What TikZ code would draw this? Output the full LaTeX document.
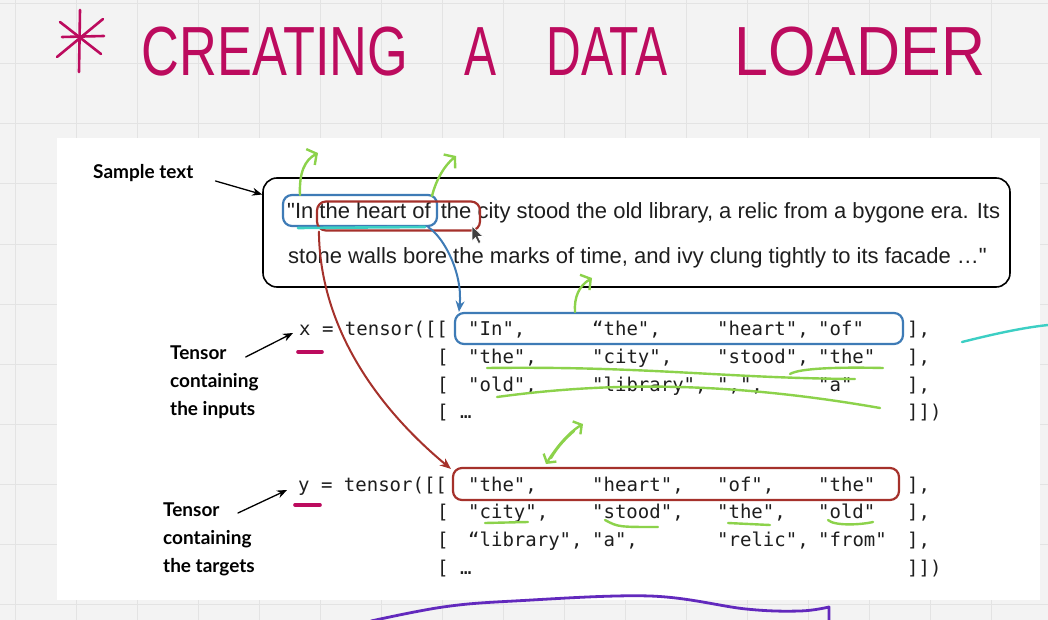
\documentclass[tikz,border=0pt]{standalone}
\usepackage{fontspec}
\usepackage{graphicx}
\setmainfont{Liberation Sans}
\newfontfamily\monofont{DejaVu Sans Mono}
\newfontfamily\labelfont{Lato}
\usetikzlibrary{arrows.meta}

\definecolor{boardgray}{HTML}{F3F3F3}
\definecolor{gridgray}{HTML}{E3E3E3}
\definecolor{inkmagenta}{HTML}{BC0B5E}
\definecolor{inkgreen}{HTML}{8CD24B}
\definecolor{inkcyan}{HTML}{3CCFC4}
\definecolor{inkpurple}{HTML}{6229BD}
\definecolor{boxblue}{HTML}{3E7BB6}
\definecolor{boxred}{HTML}{A5312B}
\definecolor{textdark}{HTML}{1E1E1E}

\newcommand{\tensorrow}[5]{\makebox[124pt][l]{#1}\makebox[125pt][l]{#2}\makebox[101pt][l]{#3}\makebox[89pt][l]{#4}#5}

\tikzset{
  mono/.style={font=\monofont\fontsize{19}{22}\selectfont,anchor=west,inner sep=0pt,text=textdark},
  sample/.style={font=\fontsize{22}{26}\selectfont,anchor=west,inner sep=0pt,text=textdark},
  tag/.style={font=\labelfont\bfseries\fontsize{19}{28}\selectfont,align=left,anchor=west,inner sep=0pt,text=black},
  titleink/.style={font=\fontsize{48}{50}\selectfont,text=inkmagenta,inner sep=0pt},
  hlbox/.style={draw,rounded corners=9pt,line width=2.2pt,inner sep=0pt},
  ink/.style={line width=2.4pt,line cap=round,line join=round},
  pointer/.style={line width=1.3pt,-{Stealth[length=10pt,width=8pt]}},
  barb/.style={-{Straight Barb[length=7pt,width=18pt]}},
}

\begin{document}
\begin{tikzpicture}[x=1pt,y=-1pt,line cap=round,line join=round]
  \useasboundingbox (0,0) rectangle (1048,620);
  \fill[boardgray] (0,0) rectangle (1048,620);
  \foreach \gx in {15,76,...,1048} \draw[gridgray,line width=1pt] (\gx,0) -- (\gx,620);
  \foreach \gy in {4,64,...,620} \draw[gridgray,line width=1pt] (0,\gy) -- (1048,\gy);
  \fill[white] (57,138) rectangle (1040,600);

  \begin{scope}[inkmagenta,line width=2.6pt]
    \draw (80,10) -- (79,72);
    \draw (60,22) -- (101,54);
    \draw (57,57) -- (103,19);
    \draw (62,37) -- (104,36);
  \end{scope}
  \node[titleink] (tcreating) at (275,52) {\scalebox{1.09}[1.45]{CREATING}};
  \node[titleink] (ta) at (480,52) {\scalebox{1}[1.45]{A}};
  \node[titleink] (tdata) at (607,52) {\scalebox{1}[1.45]{DATA}};
  \node[titleink] (tloader) at (860,52) {\scalebox{1.27}[1.45]{LOADER}};

  \node[draw,line width=1.6pt,rounded corners=14pt,minimum width=747pt,minimum height=109pt] (sbox) at (636.5,232.5) {};
  \node[sample] (sline1) at (287,213) {\textquotedbl In the heart of\hspace{4pt} the city stood the old library, a relic from a bygone era. Its};
  \node[sample] (sline2) at (288,258) {stone walls bore the marks of time, and ivy clung tightly to its facade …\textquotedbl};
  \node[hlbox,boxblue,minimum width=154pt,minimum height=31pt] (hinput) at (360,210.5) {};
  \node[hlbox,boxred,minimum width=163pt,minimum height=29pt] (htarget) at (398.5,216) {};
  \draw[ink,inkcyan,line width=2.6pt] (298,228) -- (425,227);
  \filldraw[fill=black!75,draw=white,line width=0.6pt] (472,226) -- (472,241) -- (475.5,237.5) -- (478.5,243.5) -- (481,242.3) -- (478,236.5) -- (483,236.5) -- cycle;

  \node[tag] (lsample) at (93,173) {Sample text};
  \node[tag] (linputs) at (170,382) {Tensor\\containing\\the inputs};
  \node[tag] (ltargets) at (163,539) {Tensor\\containing\\the targets};

  \node[mono] (xeq) at (299,330) {x = tensor([[};
  \node[mono] (xr1) at (468,330) {\tensorrow{"In",}{“the",}{"heart",}{"of"}{],}};
  \node[mono] (xb2) at (437,358) {[};
  \node[mono] (xr2) at (468,358) {\tensorrow{"the",}{"city",}{"stood",}{"the"}{],}};
  \node[mono] (xb3) at (437,386) {[};
  \node[mono] (xr3) at (468,386) {\tensorrow{"old",}{"library",}{",",}{"a"}{],}};
  \node[mono] (xb4) at (437,413) {[ …};
  \node[mono] (xr4) at (907,413) {]])};

  \node[mono] (yeq) at (298,486) {y = tensor([[};
  \node[mono] (yr1) at (468,486) {\tensorrow{"the",}{"heart",}{"of",}{"the"}{],}};
  \node[mono] (yb2) at (437,513) {[};
  \node[mono] (yr2) at (468,513) {\tensorrow{"city",}{"stood",}{"the",}{"old"}{],}};
  \node[mono] (yb3) at (437,541) {[};
  \node[mono] (yr3) at (468,541) {\tensorrow{“library",}{"a",}{"relic",}{"from"}{],}};
  \node[mono] (yb4) at (437,569) {[ …};
  \node[mono] (yr4) at (907,569) {]])};

  \node[hlbox,boxblue,minimum width=448pt,minimum height=31pt] (xbox) at (679,328.5) {};
  \node[hlbox,boxred,minimum width=446pt,minimum height=32pt] (ybox) at (676,484) {};

  \draw[pointer] ([shift={(22,8)}]lsample.east) -- ([yshift=38pt]sbox.west);
  \draw[pointer] ([shift={(-13,-25)}]linputs.east) -- ([shift={(-6,3)}]xeq.west);
  \draw[pointer] ([shift={(-17,-26)}]ltargets.east) -- ([shift={(-11,4)}]yeq.west);

  \draw[line width=2pt,boxblue,-{Stealth[length=11pt,width=9pt]}] ([xshift=-10pt]hinput.south east) .. controls (445,238) and (463,275) .. ([xshift=5pt]xbox.north west);
  \draw[line width=2pt,boxred,-{Stealth[length=11pt,width=9pt]}] ([xshift=3pt]htarget.south west) .. controls (320,330) and (380,410) .. ([xshift=-1pt,yshift=-2pt]ybox.north west);

  \draw[ink,inkmagenta,line width=3.6pt] (298,352) -- (322,352);
  \draw[ink,inkmagenta,line width=3.6pt] (295,505) -- (320,505);

  \begin{scope}[ink,inkgreen]
    \draw[barb] (300,195) .. controls (299,172) and (305,160) .. (318,153);
    \draw[barb] (432,196) .. controls (436,180) and (444,166) .. (456,156);
    \draw[barb] (575,312) .. controls (574,297) and (579,286) .. (592,278);
    \draw[{Straight Barb[length=6pt,width=15pt]}-{Straight Barb[length=6pt,width=15pt]}] (546,464) .. controls (556,448) and (568,433) .. (583,424);
    \draw (551,458) .. controls (558,446) and (566,438) .. (574,431);
    \draw (487,368) .. controls (650,366) and (720,378) .. (855,379);
    \draw (790,374) .. controls (800,368) and (840,367) .. (883,368);
    \draw (497,397) .. controls (600,383) and (720,380) .. (880,408);
    \draw (485,523) -- (528,522);
    \draw (605,520) .. controls (618,527) .. (658,527);
    \draw (728,523) -- (770,525);
    \draw (828,520) .. controls (834,526) and (860,525) .. (873,522);
  \end{scope}

  \draw[ink,inkcyan] (962,342) .. controls (990,335) and (1020,328) .. (1048,325);
  \draw[ink,inkpurple,line width=2.8pt] plot[smooth,tension=0.6] coordinates {(371,621) (443,607) (514,601) (650,596) (746,609) (800,611) (829,607)} -- (829,621);
\end{tikzpicture}
\end{document}
